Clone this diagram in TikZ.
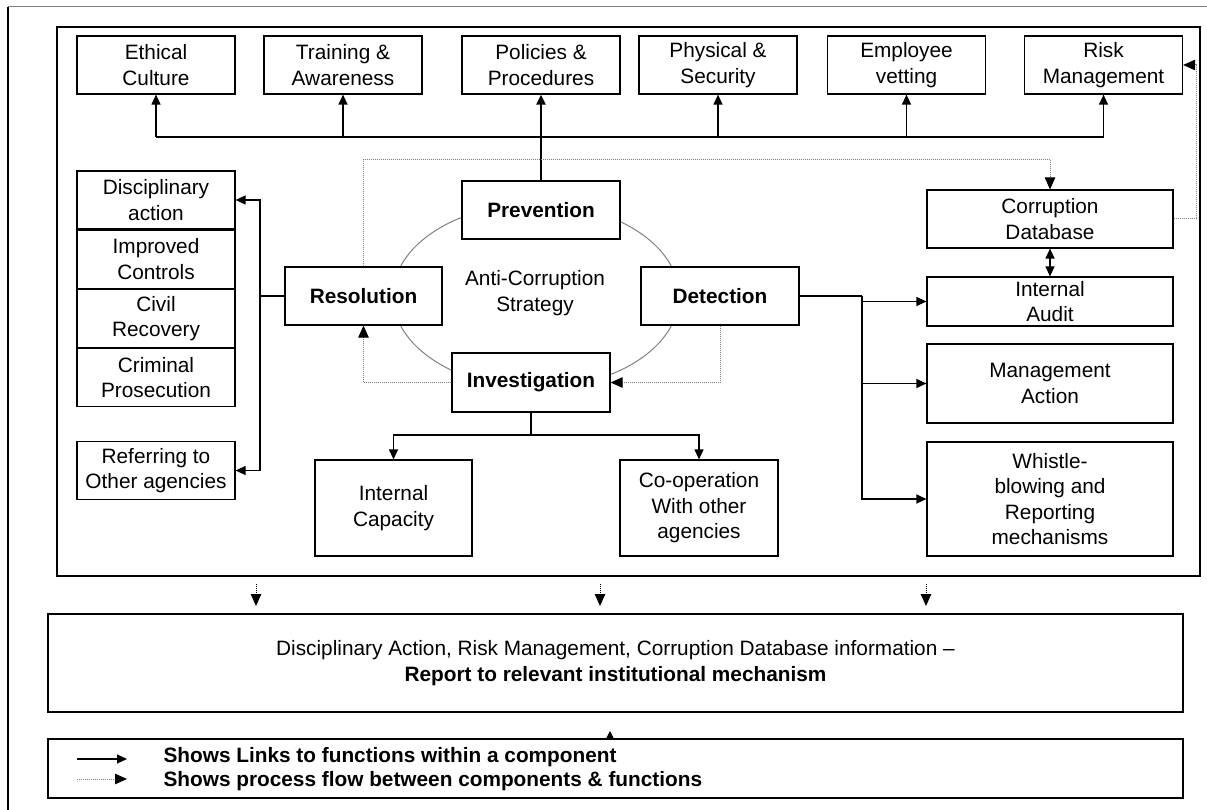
\documentclass[tikz,border=0pt]{standalone}
\usepackage{fontspec}
\setmainfont{Liberation Sans}
\usetikzlibrary{shapes,arrows.meta,positioning}
\newcommand{\diagfont}{\fontsize{20.8}{25.5}\selectfont}

\begin{document}
\begin{tikzpicture}[
    x=1pt, y=-1pt,
    every node/.style={align=center, font=\diagfont},
    box/.style={rectangle, draw, line width=1.2pt, fill=white, minimum width=158pt, minimum height=58pt, inner sep=2pt, text centered},
    phase/.style={box, font=\diagfont\bfseries},
    link/.style={line width=1.2pt, -{Triangle[length=10pt,width=9pt]}},
    flow/.style={draw=gray, densely dotted, line width=1pt, -{Triangle[length=12pt,width=10.5pt,color=black,fill=black]}}
]
\useasboundingbox (0,0) rectangle (1207,810);

% Page edge and main frame
\draw[gray, line width=1pt] (1207,7) -- (8,7);
\draw[line width=1.2pt] (8,7) -- (8,810);
\node[draw, line width=1.2pt, minimum width=1143pt, minimum height=549pt] (frame) at (628.5,301.5) {};

% Strategy cycle
\draw[gray, line width=1pt] (536,296) ellipse [x radius=143, y radius=92];
\node (strategy) at (535,293) {Anti-Corruption\\Strategy};
\node[phase] (prevention) at (541,210) {Prevention};
\node[phase, minimum width=157pt] (resolution) at (363.5,296) {Resolution};
\node[phase] (detection) at (720,296) {Detection};
\node[phase, minimum height=59pt] (investigation) at (531,382.5) {Investigation};

% Prevention functions
\node[box] (ethical) at (156,65) {Ethical\\Culture};
\node[box] (training) at (343,65) {Training \&\\Awareness};
\node[box] (policies) at (541,65) {Policies \&\\Procedures};
\node[box] (physical) at (718,65) {Physical \&\\Security};
\node[box] (vetting) at (906.5,65) {Employee\\vetting};
\node[box] (risk) at (1103.5,65) {Risk\\Management};

% Resolution functions
\node[box] (discip) at (156,200) {Disciplinary\\action};
\node[box, below=0pt of discip] (improved) {Improved\\Controls};
\node[box, below=0pt of improved] (civil) {Civil\\Recovery};
\node[box, below=0pt of civil] (criminal) {Criminal\\Prosecution};
\node[box] (referring) at (156,470.5) {Referring to\\Other agencies};

% Detection functions
\node[box, minimum width=246pt] (corrdb) at (1050,219) {Corruption\\Database};
\node[box, minimum width=246pt, minimum height=49pt, inner ysep=1pt] (audit) at (1050,301.5) {Internal\\Audit};
\node[box, minimum width=246pt, minimum height=79pt] (mgmt) at (1050,383.5) {Management\\Action};
\node[box, minimum width=246pt, minimum height=114pt] (whistle) at (1050,499) {Whistle-\\blowing and\\Reporting\\mechanisms};

% Investigation functions
\node[box, minimum width=157pt, minimum height=96pt] (capacity) at (393.5,508) {Internal\\Capacity};
\node[box, minimum height=96pt] (coop) at (699,508) {Co-operation\\With other\\agencies};

% Reporting and legend
\node[box, minimum width=1135pt, minimum height=98pt] (report) at (615.5,663) {Disciplinary Action, Risk Management,\ Corruption Database information --\\\textbf{Report to relevant institutional\ mechanism}};
\node[box, minimum width=1135pt, minimum height=59pt] (legend) at (615.5,768.5) {};
\node[anchor=west, font=\diagfont\bfseries] (legsolid) at (160,757) {Shows Links to functions within a component};
\node[anchor=west, font=\diagfont\bfseries] (legdotted) at (160,781) {Shows process flow between components \& functions};

% Connections
\coordinate (bus) at (541,137);
\draw[link, line width=2.2pt] (prevention.north) -- (policies.south);
\draw[line width=1.2pt] (ethical.south |- bus) -- (risk.south |- bus);
\draw[link] (ethical.south |- bus) -- (ethical.south);
\draw[link] (training.south |- bus) -- (training.south);
\draw[link] (physical.south |- bus) -- (physical.south);
\draw[link] (vetting.south |- bus) -- (vetting.south);
\draw[link] (risk.south |- bus) -- (risk.south);

\coordinate (resfork) at (260,296);
\draw[line width=1.2pt] (resolution.west) -- (resfork);
\draw[link] (resfork) |- (discip.east);
\draw[link] (resfork) |- (referring.east);

\coordinate (detfork) at (862,296);
\draw[line width=1.2pt] (detection.east) -- (detfork);
\draw[link] (detfork) |- (audit.west);
\draw[link] (detfork) |- (mgmt.west);
\draw[link] (detfork) |- (whistle.west);
\draw[link, {Triangle[length=10pt,width=9pt]}-{Triangle[length=10pt,width=9pt]}] (corrdb.south) -- (audit.north);

\coordinate (invfork) at (531,435);
\draw[line width=1.2pt] (investigation.south) -- (invfork);
\draw[link] (invfork) -| (capacity.north);
\draw[link] (invfork) -| (coop.north);

% Process flow
\draw[flow] (resolution.north) -- ++(0,-107) -| (corrdb.north);
\draw[flow] (investigation.west) -| (resolution.south);
\draw[flow] (detection.south) |- (investigation.east);
\draw[flow] (corrdb.east) -- ++(23,0) |- (risk.east);

\coordinate (out1) at (256,584);
\coordinate (in1) at (256,606);
\coordinate (out2) at (600,584);
\coordinate (in2) at (600,606);
\coordinate (out3) at (926,584);
\coordinate (in3) at (926,606);
\draw[flow, draw=black] (out1) -- (in1);
\draw[flow, draw=black] (out2) -- (in2);
\draw[flow, draw=black] (out3) -- (in3);
\coordinate (stray) at (610,731);
\draw[flow, -{Triangle[length=8pt,width=8pt,color=black,fill=black]}] (legend.north -| stray) -- (stray);

% Legend keys
\coordinate (keysolid) at (77,759);
\coordinate (keydotted) at (77,779);
\draw[link] (keysolid) -- ++(50,0);
\draw[flow] (keydotted) -- ++(50,0);

\end{tikzpicture}
\end{document}
